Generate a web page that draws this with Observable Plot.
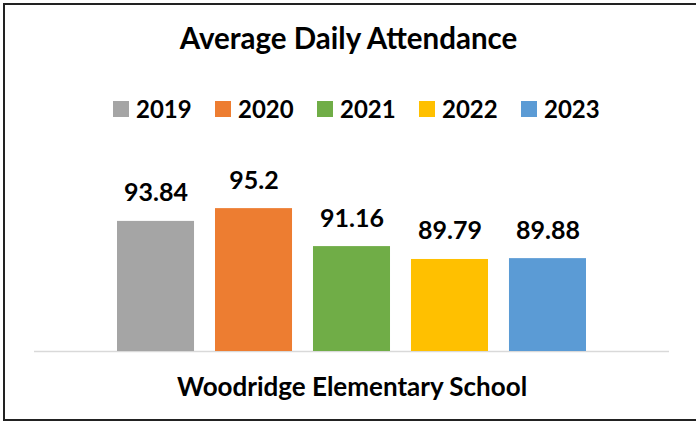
<!DOCTYPE html>
<html>
<head>
<meta charset="utf-8">
<script src="https://cdn.jsdelivr.net/npm/d3@7"></script>
<script src="https://cdn.jsdelivr.net/npm/@observablehq/plot@0.6"></script>
<style>
  html, body { margin: 0; padding: 0; overflow: hidden; background: #fff; }
  body { width: 696px; height: 421px; position: relative; font-family: Lato, "Open Sans", sans-serif; font-weight: 700; color: #000; }
  #frame { position: absolute; left: 3px; top: 3px; width: 720px; height: 414px; border: 2px solid #222; box-sizing: content-box; }
  #title { position: absolute; left: 0; width: 697px; top: 21px; text-align: center; font-size: 29.5px; line-height: 34px; white-space: nowrap; }
  #legend { position: absolute; left: 113px; top: 96px; display: flex; }
  .item { display: flex; align-items: center; width: 102px; font-size: 24px; line-height: 26px; }
  .sw { width: 16px; height: 16px; margin-right: 7px; flex: none; }
  #chart { position: absolute; left: 0; top: 0; }
</style>
</head>
<body>
<div id="frame"></div>
<div id="chart"></div>
<div id="title"></div>
<div id="legend"></div>
<script>
// Data
const title = "Average Daily Attendance";
const category = "Woodridge Elementary School";
const years = ["2019", "2020", "2021", "2022", "2023"];
const values = [93.84, 95.2, 91.16, 89.79, 89.88];
const colors = ["#A5A5A5", "#ED7D31", "#70AD47", "#FFC000", "#5B9BD5"];
const yDomain = [80, 100];

const data = years.map((y, i) => ({year: y, value: values[i]}));

document.getElementById("title").textContent = title;
const legend = document.getElementById("legend");
years.forEach((y, i) => {
  const it = document.createElement("div");
  it.className = "item";
  const sw = document.createElement("div");
  sw.className = "sw";
  sw.style.background = colors[i];
  const t = document.createElement("span");
  t.textContent = y;
  it.appendChild(sw);
  it.appendChild(t);
  legend.appendChild(it);
});

const chart = Plot.plot({
  width: 696,
  height: 421,
  marginLeft: 34,
  marginRight: 27,
  marginTop: 163,
  marginBottom: 70,
  style: {fontFamily: "Lato, 'Open Sans', sans-serif", background: "transparent"},
  x: {domain: years, paddingInner: 0.214, paddingOuter: 0.847, round: false, axis: null},
  y: {domain: yDomain, axis: null},
  color: {domain: years, range: colors},
  marks: [
    Plot.ruleY([yDomain[0]], {stroke: "#D9D9D9", strokeWidth: 1.5}),
    Plot.barY(data, {x: "year", y1: yDomain[0], y2: "value", fill: "year"}),
    Plot.text(data, {x: "year", y: "value", text: d => String(d.value), lineAnchor: "bottom", dy: -20, fontSize: 25, fontWeight: "bold", fill: "#000"}),
    Plot.text([category], {frameAnchor: "bottom", text: d => d, lineAnchor: "bottom", dy: 44, fontSize: 26, fontWeight: "bold", fill: "#000"})
  ]
});
document.getElementById("chart").appendChild(chart);
</script>
</body>
</html>
